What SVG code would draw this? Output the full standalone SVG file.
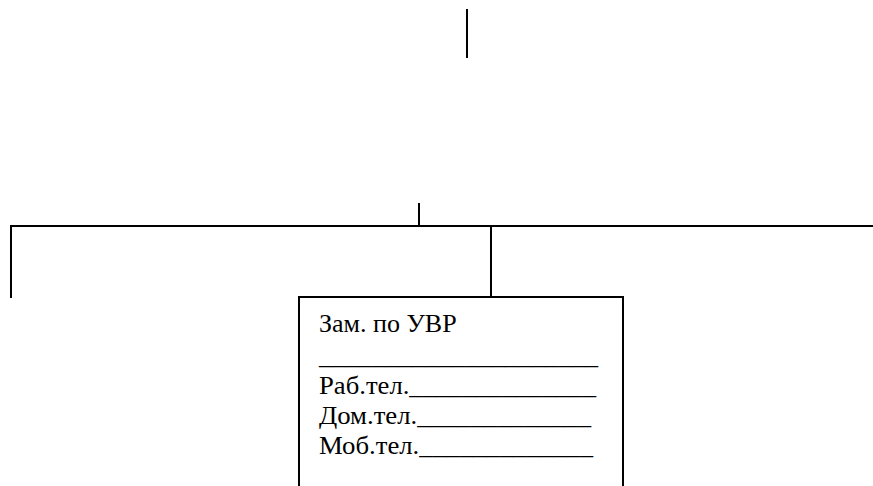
<svg xmlns="http://www.w3.org/2000/svg" width="873" height="486" viewBox="0 0 873 486">
<style>
.ln{stroke:#000;stroke-width:2;fill:none}
.t{font-family:'Liberation Serif','Times New Roman',serif;font-size:26px;fill:#000}
</style>
<rect width="873" height="486" fill="#fff"/>
<g id="connectors">
<line class="ln" x1="467" y1="9" x2="467" y2="58"/>
<line class="ln" x1="419" y1="203" x2="419" y2="227"/>
<line class="ln" x1="10" y1="226" x2="873" y2="226"/>
<line class="ln" x1="11" y1="225" x2="11" y2="298"/>
<line class="ln" x1="491" y1="225" x2="491" y2="297"/>
</g>
<g id="node-zam">
<rect class="ln" x="299" y="297" width="324" height="200"/>
<text class="t" x="319" y="332">Зам. по УВР</text>
<text class="t" x="319" y="364" textLength="279" lengthAdjust="spacingAndGlyphs">_____________________</text>
<text class="t" x="319" y="394" textLength="277" lengthAdjust="spacingAndGlyphs">Раб.тел.______________</text>
<text class="t" x="319" y="424" textLength="272" lengthAdjust="spacingAndGlyphs">Дом.тел._____________</text>
<text class="t" x="319" y="454" textLength="274" lengthAdjust="spacingAndGlyphs">Моб.тел._____________</text>
</g>
</svg>
